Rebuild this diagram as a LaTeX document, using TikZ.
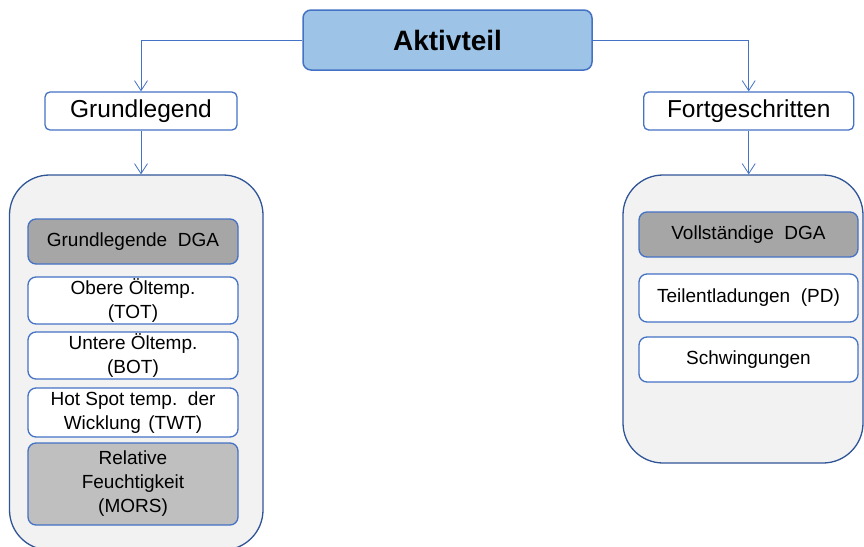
\documentclass[tikz,border=0pt]{standalone}
\usepackage{fontspec}
\setmainfont{Liberation Sans}
\usetikzlibrary{arrows.meta}
\definecolor{aktfill}{HTML}{9DC3E6}
\definecolor{boxline}{HTML}{4472C4}
\definecolor{contline}{HTML}{2F5597}
\definecolor{contfill}{HTML}{F2F2F2}
\definecolor{darkgray}{HTML}{A6A6A6}
\definecolor{lightgray}{HTML}{BFBFBF}
\tikzset{
  topbox/.style={draw=boxline, fill=aktfill, line width=1.5pt, rounded corners=8pt,
    minimum width=289pt, minimum height=60pt, inner sep=0pt,
    font=\fontsize{28}{34}\selectfont\bfseries},
  levelbox/.style={draw=boxline, fill=white, line width=1.3pt, rounded corners=5pt,
    minimum height=38pt, inner sep=0pt, font=\fontsize{24.5}{29}\selectfont},
  contbox/.style={draw=contline, fill=contfill, line width=1.3pt, rounded corners=40pt, inner sep=0pt},
  itembox/.style={draw=boxline, fill=white, line width=1.3pt, rounded corners=8pt,
    inner sep=0pt, align=center, font=\fontsize{19}{24}\selectfont},
  conn/.style={draw=boxline, line width=0.8pt, -{Straight Barb[length=10pt,width=13pt]}}
}
\begin{document}
\begin{tikzpicture}[x=1pt,y=-1pt]
\useasboundingbox (0,0) rectangle (864,546);
% containers
\node[contbox, minimum width=253.5pt, minimum height=375pt] (lcont) at (136.25,362.5) {};
\node[contbox, minimum width=240pt, minimum height=288pt] (rcont) at (743,319) {};
% top and level nodes
\node[topbox] (akt) at (447.5,40) {Aktivteil};
\node[levelbox, minimum width=192pt] (grund) at (141,111) {Grundlegend};
\node[levelbox, minimum width=210pt] (fort) at (748.7,111) {Fortgeschritten};
% left items
\node[itembox, fill=darkgray, minimum width=210pt, minimum height=45pt] (ldga) at (133,241.5) {Grundlegende\hspace{0.56em}DGA};
\node[itembox, minimum width=210pt, minimum height=47pt] (tot) at (133,300.5) {Obere Öltemp.\\(TOT)};
\node[itembox, minimum width=210pt, minimum height=47pt] (bot) at (133,355.5) {Untere Öltemp.\\(BOT)};
\node[itembox, minimum width=210pt, minimum height=49pt] (twt) at (133,412.5) {Hot Spot temp.\hspace{0.56em}der\\Wicklung\hspace{0.4em}(TWT)};
\node[itembox, fill=lightgray, minimum width=210pt, minimum height=82pt] (mors) at (133,484) {Relative\\Feuchtigkeit\\(MORS)};
% right items
\node[itembox, fill=darkgray, minimum width=219pt, minimum height=45pt] (rdga) at (748.5,234.5) {Vollständige\hspace{0.56em}DGA};
\node[itembox, minimum width=219pt, minimum height=48pt] (pd) at (748.5,298) {Teilentladungen\hspace{0.56em}(PD)};
\node[itembox, minimum width=219pt, minimum height=45pt] (schw) at (748.5,359.5) {Schwingungen};
% connectors
\draw[conn] (akt.west) -| (grund.north);
\draw[conn] (akt.east) -| (fort.north);
\draw[conn] (grund.south) -- (grund.south |- lcont.north);
\draw[conn] (fort.south) -- (fort.south |- rcont.north);
\end{tikzpicture}
\end{document}
